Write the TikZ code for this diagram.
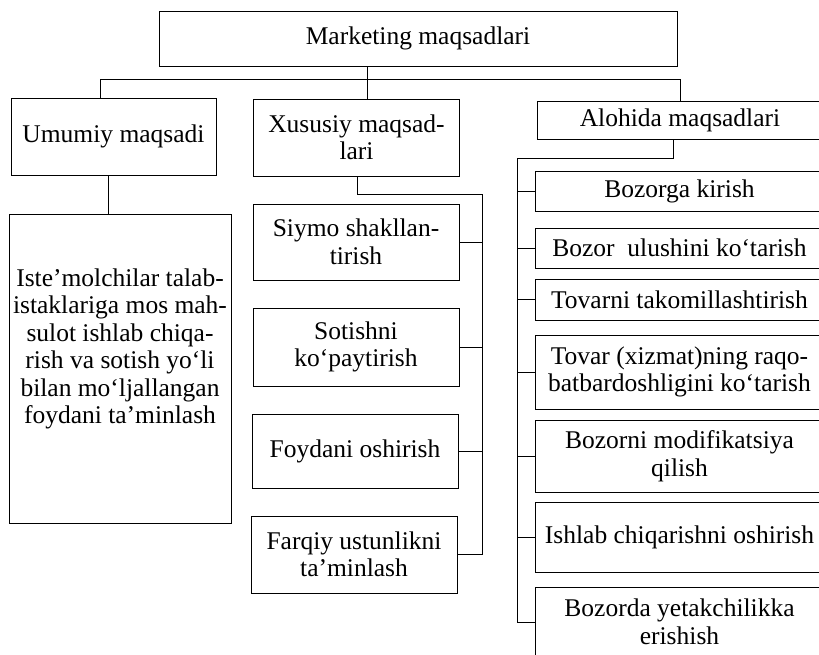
\documentclass[tikz,border=0pt]{standalone}
\usepackage{fontspec}
\setmainfont{Liberation Serif}
\begin{document}
\begin{tikzpicture}[x=1pt,y=-1pt,
  box/.style={draw, line width=0.9pt, inner sep=0pt, align=center, anchor=center,
    font=\fontsize{25.5}{27.5}\selectfont},
  conn/.style={line width=0.8pt}]
\useasboundingbox (0,0) rectangle (819,654);
\clip (0,0) rectangle (819,654);
% top
\node[box, minimum width=518pt, minimum height=55pt] (top) at (418,38.5) {Marketing maqsadlari};
% second level
\node[box, minimum width=205pt, minimum height=77pt] (umumiy) at (113.5,136.5) {Umumiy maqsadi};
\node[box, minimum width=206pt, minimum height=77pt] (xususiy) at (356.5,137.5) {Xususiy maqsad-\\lari};
\node[box, minimum width=286pt, minimum height=38pt] (alohida) at (680,120) {Alohida maqsadlari};
% left detail
\node[box, minimum width=222pt, minimum height=309pt] (detail) at (120,369) {};
\node[align=center, inner sep=0pt, font=\fontsize{25.5}{27.5}\selectfont] (detailtext) at (120,349)
  {Iste’molchilar talab-\\istaklariga mos mah-\\sulot ishlab chiqa-\\rish va sotish yo‘li\\bilan mo‘ljallangan\\foydani ta’minlash};
% middle column
\node[box, minimum width=206pt, minimum height=76pt] (siymo) at (356,242) {Siymo shakllan-\\tirish};
\node[box, minimum width=206pt, minimum height=78pt] (sotish) at (356,347) {Sotishni\\ko‘paytirish};
\node[box, minimum width=206pt, minimum height=74pt] (foyda) at (355,451) {Foydani oshirish};
\node[box, minimum width=206pt, minimum height=77pt] (farqiy) at (354,554.5) {Farqiy ustunlikni\\ta’minlash};
% right column
\node[box, minimum width=289pt, minimum height=40pt] (r1) at (679.5,191) {Bozorga kirish};
\node[box, minimum width=289pt, minimum height=40pt] (r2) at (679.5,248) {Bozor\ \ ulushini ko‘tarish};
\node[box, minimum width=289pt, minimum height=41pt] (r3) at (679.5,299.5) {Tovarni takomillashtirish};
\node[box, minimum width=289pt, minimum height=74pt] (r4) at (679.5,372) {Tovar (xizmat)ning raqo-\\batbardoshligini ko‘tarish};
\node[box, minimum width=289pt, minimum height=72pt] (r5) at (679.5,456) {Bozorni modifikatsiya\\qilish};
\node[box, minimum width=289pt, minimum height=70pt] (r6) at (679.5,537) {Ishlab chiqarishni oshirish};
\node[box, minimum width=289pt, minimum height=70pt] (r7) at (679.5,622) {Bozorda yetakchilikka\\erishish};
% junction coordinates
\coordinate (j1) at (367,79);
\coordinate (lbus) at (100,79);
\coordinate (rbus) at (680,79);
\coordinate (ux) at (108,195);
\coordinate (xs) at (357,194);
\coordinate (xr) at (482,194);
\coordinate (as) at (673,158);
\coordinate (al) at (517,158);
% top connectors
\draw[conn] (top.south -| j1) -- (j1);
\draw[conn] (lbus) -- (rbus);
\draw[conn] (lbus) -- (umumiy.north -| lbus);
\draw[conn] (j1) -- (xususiy.north -| j1);
\draw[conn] (rbus) -- (alohida.north -| rbus);
% left
\draw[conn] (umumiy.south -| ux) -- (detail.north -| ux);
% middle
\draw[conn] (xususiy.south -| xs) -- (xs) -- (xr) -- (xr |- farqiy.east) -- (farqiy.east);
\draw[conn] (siymo.east) -- (siymo.east -| xr);
\draw[conn] (sotish.east) -- (sotish.east -| xr);
\draw[conn] (foyda.east) -- (foyda.east -| xr);
% right
\draw[conn] (alohida.south -| as) -- (as) -- (al) -- (al |- r7.west) -- (r7.west);
\foreach \n in {r1,r2,r3,r4,r5,r6}
  \draw[conn] (\n.west -| al) -- (\n.west);
\end{tikzpicture}
\end{document}
